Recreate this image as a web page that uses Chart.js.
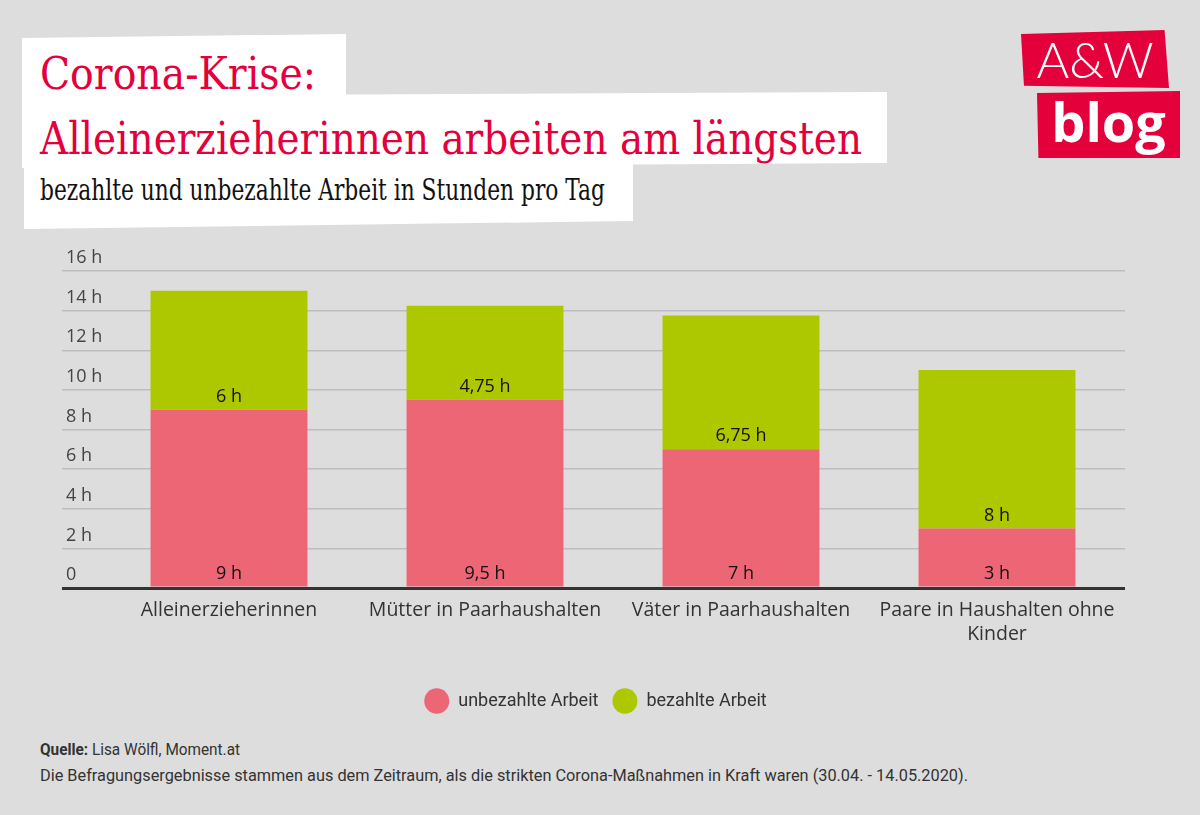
<!DOCTYPE html>
<html lang="de">
<head>
<meta charset="utf-8">
<title>Corona-Krise: Alleinerzieherinnen arbeiten am längsten</title>
<script src="https://cdn.jsdelivr.net/npm/chart.js@4.4.1/dist/chart.umd.min.js"></script>
<style>
    body {
        margin: 0;
        width: 1200px;
        height: 815px;
        background: #dddddd;
        position: relative;
        overflow: hidden;
        font-family: Roboto, sans-serif;
    }
    .box { position: absolute; background: #fff; }
    #box1 { left: 22px; top: 34px; width: 324px; height: 68px; clip-path: polygon(0 4px, 100% 0, 100% 100%, 0 100%); }
    #box2 { left: 22px; top: 92px; width: 865px; height: 76px; clip-path: polygon(0 4px, 100% 0, 100% 71px, 0 100%); }
    #box3 { left: 24px; top: 160px; width: 609px; height: 69px; clip-path: polygon(0 0, 100% 0, 100% 61px, 0 100%); }
    .title {
        position: absolute;
        left: 40px;
        color: #e4003b;
        font-family: "DejaVu Serif", serif;
        font-size: 44px;
        line-height: 44px;
        white-space: nowrap;
        transform-origin: 0 0;
    }
    #t1 { top: 52px; }
    #t2 { top: 117px; }
    #sub {
        position: absolute;
        left: 40px;
        top: 175px;
        font-family: "DejaVu Serif", serif;
        font-size: 29px;
        line-height: 30px;
        color: #111;
        white-space: nowrap;
        transform-origin: 0 0;
    }
    .logo { position: absolute; background: #e4003b; color: #fff; text-align: center; }
    #logo1 { left: 1021px; top: 30px; width: 148px; height: 58px; clip-path: polygon(0 4px, 97% 0, 100% 100%, 2% 96%);
             font-family: Lato, sans-serif; font-weight: 300; font-size: 50px; line-height: 58px; }
    #logo2 { left: 1037px; top: 91px; width: 143px; height: 67px; clip-path: polygon(0 2px, 100% 0, 100% 100%, 1% 100%);
             font-family: "Open Sans", sans-serif; font-weight: 700; font-size: 54px; line-height: 60px; }
    #chartWrap { position: absolute; left: 0; top: 240px; width: 1200px; height: 480px; }
    .foot { position: absolute; left: 40px; font-size: 17px; color: #333; white-space: nowrap; transform-origin: 0 0; }
    #f1 { top: 739px; }
    #f2 { top: 765px; }
</style>
</head>
<body>
<div class="box" id="box1"></div>
<div class="box" id="box2"></div>
<div class="box" id="box3"></div>
<div class="title" id="t1">Corona-Krise:</div>
<div class="title" id="t2">Alleinerzieherinnen arbeiten am längsten</div>
<div id="sub">bezahlte und unbezahlte Arbeit in Stunden pro Tag</div>
<div class="logo" id="logo1">A&amp;W</div>
<div class="logo" id="logo2">blog</div>
<div id="chartWrap"><canvas id="chart"></canvas></div>
<div class="foot" id="f1"><b>Quelle:</b> Lisa Wölfl, Moment.at</div>
<div class="foot" id="f2">Die Befragungsergebnisse stammen aus dem Zeitraum, als die strikten Corona-Maßnahmen in Kraft waren (30.04. - 14.05.2020).</div>

<script>
const categories = ['Alleinerzieherinnen', 'Mütter in Paarhaushalten', 'Väter in Paarhaushalten', ['Paare in Haushalten ohne', 'Kinder']];
const unbezahlteArbeit = [9, 9.5, 7, 3];
const bezahlteArbeit = [6, 4.75, 6.75, 8];
const yTickLabels = ['0', '2 h', '4 h', '6 h', '8 h', '10 h', '12 h', '14 h', '16 h'];

(function() {
    'use strict';

    // Schrift auf die Breite der Vorlage strecken/stauchen
    function fitWidth(id, target) {
        const el = document.getElementById(id);
        const w = el.getBoundingClientRect().width;
        el.style.transform = 'scaleX(' + (target / w) + ')';
    }
    fitWidth('t1', 276);
    fitWidth('t2', 822);
    fitWidth('sub', 565);
    fitWidth('f1', 200);
    fitWidth('f2', 928);

    const rot = '#ed6676';
    const gruen = '#aec800';

    function formatH(v) {
        return String(v).replace('.', ',') + ' h';
    }

    // Werte unten in jedes Segment schreiben
    const segmentLabels = {
        id: 'segmentLabels',
        afterDatasetsDraw(chart) {
            const ctx = chart.ctx;
            ctx.save();
            ctx.font = '18px "Open Sans"';
            ctx.fillStyle = '#111';
            ctx.textAlign = 'center';
            ctx.textBaseline = 'middle';
            chart.data.datasets.forEach((ds, i) => {
                const meta = chart.getDatasetMeta(i);
                meta.data.forEach((bar, j) => {
                    const p = bar.getProps(['x', 'base'], true);
                    ctx.fillText(formatH(ds.data[j]), p.x, p.base - 13);
                });
            });
            ctx.restore();
        }
    };

    Chart.defaults.font.family = '"Open Sans", sans-serif';
    Chart.defaults.font.size = 18;
    Chart.defaults.color = '#333';

    new Chart(document.getElementById('chart').getContext('2d'), {
        type: 'bar',
        data: {
            labels: categories,
            datasets: [{
                label: 'unbezahlte Arbeit',
                data: unbezahlteArbeit,
                backgroundColor: rot,
                borderWidth: 0
            }, {
                label: 'bezahlte Arbeit',
                data: bezahlteArbeit,
                backgroundColor: gruen,
                borderWidth: 0
            }]
        },
        options: {
            responsive: true,
            maintainAspectRatio: false,
            animation: false,
            layout: {
                padding: { left: 66, right: 75, top: 31, bottom: 0 }
            },
            datasets: {
                bar: { categoryPercentage: 1, barPercentage: 0.613 }
            },
            plugins: {
                legend: {
                    position: 'bottom',
                    labels: {
                        usePointStyle: true,
                        pointStyle: 'circle',
                        pointStyleWidth: 25,
                        padding: 14,
                        color: '#333',
                        font: { family: 'Roboto', size: 18 }
                    }
                },
                tooltip: { enabled: false }
            },
            scales: {
                x: {
                    stacked: true,
                    grid: { display: false },
                    border: { display: false },
                    ticks: {
                        padding: 3,
                        color: '#333',
                        font: { size: 19.5 },
                        maxRotation: 0,
                        autoSkip: false
                    },
                    afterFit: function(scale) {
                        scale.height = 90;
                    }
                },
                y: {
                    stacked: true,
                    min: 0,
                    max: 16,
                    border: { display: false },
                    grid: {
                        tickLength: 39,
                        color: ctx => ctx.tick && ctx.tick.value === 0 ? '#333' : '#bdbdbd',
                        lineWidth: ctx => ctx.tick && ctx.tick.value === 0 ? 3 : 1.5
                    },
                    ticks: {
                        stepSize: 2,
                        crossAlign: 'far',
                        labelOffset: -13,
                        padding: 0,
                        color: '#444',
                        callback: function(value, index) {
                            return yTickLabels[index];
                        }
                    },
                    afterFit: function(scale) {
                        scale.width = 35;
                    }
                }
            }
        },
        plugins: [segmentLabels]
    });
})();
</script>
</body>
</html>
